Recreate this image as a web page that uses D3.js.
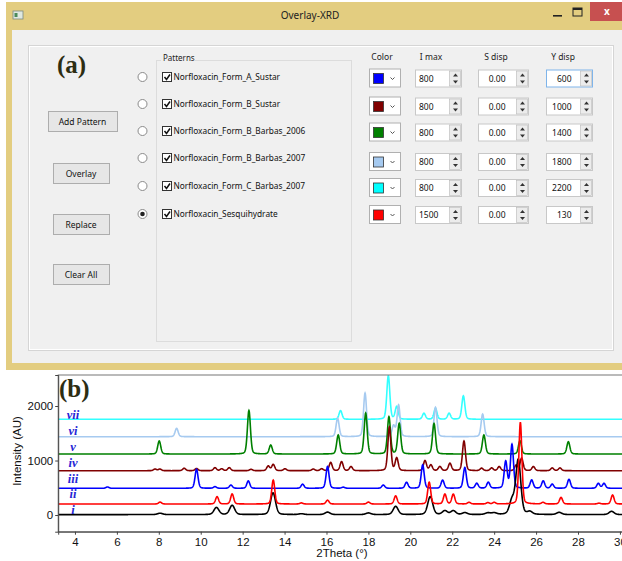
<!DOCTYPE html>
<html>
<head>
<meta charset="utf-8">
<script src="https://cdnjs.cloudflare.com/ajax/libs/d3/7.8.5/d3.min.js"></script>
<style>
  body { margin: 0; background: #fff; }
  svg { display: block; }
</style>
</head>
<body>
<div id="figure"></div>
<script>
// ---- panel (a): the dialog ----
var patternNames = ["Norfloxacin_Form_A_Sustar", "Norfloxacin_Form_B_Sustar", "Norfloxacin_Form_B_Barbas_2006",
                    "Norfloxacin_Form_B_Barbas_2007", "Norfloxacin_Form_C_Barbas_2007", "Norfloxacin_Sesquihydrate"];
var patternColors = ["#0000ff", "#800000", "#008000", "#a6caf0", "#00ffff", "#ff0000"];
var iMaxValues = ["800", "800", "800", "800", "800", "1500"];
var sDispValues = ["0.00", "0.00", "0.00", "0.00", "0.00", "0.00"];
var yDispValues = ["600", "1000", "1400", "1800", "2200", "130"];
var selectedPattern = 5;
var buttonLabels = ["Add Pattern", "Overlay", "Replace", "Clear All"];
var columnHeaders = ["Color", "I max", "S disp", "Y disp"];

// ---- panel (b): the overlay ----
var traceLabels = ["i", "ii", "iii", "iv", "v", "vi", "vii"];
var traceColors = ["#000000", "#ff0000", "#0000ff", "#800000", "#008000", "#a6caf0", "#33ffff"];
var traceOffsets = [8, 202, 490, 813, 1119, 1437, 1756];
var traceFwhm = [0.28, 0.17, 0.17, 0.17, 0.17, 0.17, 0.17];
var labelLevels = [18, 312, 587, 880, 1174, 1468, 1761];
var xTicks = [4, 6, 8, 10, 12, 14, 16, 18, 20, 22, 24, 26, 28, 30];
var yTicks = [0, 1000, 2000];

// [2theta, height]
var peaksI = [[8.06, 25], [10.75, 130], [11.5, 170], [13.45, 400], [14.8, 15], [16.05, 45], [18.0, 30],
              [19.3, 150], [20.95, 330], [21.65, 70], [22.05, 70], [22.6, 35], [23.7, 30], [24.0, 30],
              [24.85, 250], [25.15, 1000], [25.7, 50], [27.1, 40], [29.6, 60]];
var peaksII = [[8.06, 35], [10.78, 135], [11.5, 185], [13.46, 440], [14.8, 20], [16.05, 70], [18.0, 35],
               [19.3, 150], [20.9, 400], [21.65, 180], [22.05, 180], [22.8, 30], [23.7, 25], [24.0, 30],
               [25.25, 1500], [26.33, 30], [27.19, 120], [29.0, 15], [29.65, 165]];
var peaksIII = [[5.55, 25], [9.8, 350], [10.68, 30], [11.44, 60], [12.27, 135], [14.86, 75], [16.05, 400],
                [16.8, 20], [18.71, 60], [19.82, 110], [20.59, 430], [21.54, 150], [22.6, 380], [23.17, 90],
                [23.72, 110], [24.55, 490], [24.85, 800], [25.79, 150], [26.34, 135], [26.77, 75],
                [27.57, 165], [28.97, 90], [29.24, 90]];
var peaksIV = [[7.82, 30], [8.05, 30], [9.21, 45], [9.8, 40], [10.68, 55], [11.0, 35], [11.36, 55],
               [12.4, 25], [13.22, 85], [13.46, 115], [14.02, 35], [15.37, 30], [15.77, 35], [16.2, 150],
               [16.72, 165], [17.17, 75], [19.0, 800], [19.35, 230], [20.7, 185], [20.98, 105], [21.41, 75],
               [21.89, 135], [22.56, 545], [23.4, 45], [23.88, 50], [24.24, 75], [25.05, 100], [25.31, 230],
               [25.87, 75], [26.77, 50], [27.14, 50]];
var peaksV = [[8.02, 240], [12.3, 800], [13.34, 165], [16.56, 350], [17.87, 750], [18.98, 680], [19.47, 560],
              [21.13, 560], [23.51, 350], [25.23, 245], [27.54, 225]];
var peaksVI = [[8.85, 155], [16.53, 340], [17.84, 800], [19.2, 200], [19.44, 580], [21.2, 540], [23.45, 415]];
var peaksVII = [[16.67, 160], [18.95, 800], [19.35, 230], [20.65, 110], [21.2, 200], [21.85, 110], [22.53, 430]];
var tracePeaks = [peaksI, peaksII, peaksIII, peaksIV, peaksV, peaksVI, peaksVII];
var drawOrder = [6, 5, 4, 3, 2, 0, 1];

var W = 622, H = 561;
var svg = d3.select("#figure").append("svg").attr("width", W).attr("height", H);
var uiFont = "'Noto Sans', 'Open Sans', sans-serif";
var plotFont = "11.5px 'Liberation Sans', Arial, sans-serif";

// window frame
svg.append("rect").attr("x", 6).attr("y", 2).attr("width", 640).attr("height", 368).attr("fill", "#e3cd80");
svg.append("rect").attr("x", 12).attr("y", 30).attr("width", 640).attr("height", 333).attr("fill", "#f0f0f0");
svg.append("text").attr("x", 310).attr("y", 19).attr("text-anchor", "middle")
    .style("font", "10px " + uiFont).attr("fill", "#222").text("Overlay-XRD");
svg.append("rect").attr("x", 13).attr("y", 11).attr("width", 10).attr("height", 8)
    .attr("fill", "#dfe8e0").attr("stroke", "#7a8a80").attr("stroke-width", 0.8);
svg.append("rect").attr("x", 14.5).attr("y", 13).attr("width", 3).attr("height", 4).attr("fill", "#4a8a5a");
svg.append("rect").attr("x", 553).attr("y", 15).attr("width", 9).attr("height", 1.6).attr("fill", "#222");
svg.append("rect").attr("x", 573).attr("y", 8).attr("width", 9).attr("height", 8)
    .attr("fill", "none").attr("stroke", "#222").attr("stroke-width", 1);
svg.append("rect").attr("x", 573).attr("y", 8).attr("width", 9).attr("height", 2).attr("fill", "#222");
svg.append("rect").attr("x", 590).attr("y", 2).attr("width", 40).attr("height", 19).attr("fill", "#c75050");
svg.append("text").attr("x", 607).attr("y", 15).attr("text-anchor", "middle")
    .style("font", "bold 10px " + uiFont).attr("fill", "#fff").text("x");

// group panels
svg.append("rect").attr("x", 28.5).attr("y", 45.5).attr("width", 585).attr("height", 305)
    .attr("fill", "none").attr("stroke", "#d5d5d5");
svg.append("rect").attr("x", 29.5).attr("y", 46.5).attr("width", 583).attr("height", 303)
    .attr("fill", "none").attr("stroke", "#fff");
svg.append("rect").attr("x", 156.5).attr("y", 60.5).attr("width", 195).attr("height", 281)
    .attr("fill", "none").attr("stroke", "#dcdcdc");
svg.append("rect").attr("x", 161).attr("y", 55).attr("width", 34).attr("height", 10).attr("fill", "#f0f0f0");
svg.append("text").attr("x", 163).attr("y", 61).style("font", "8px " + uiFont).attr("fill", "#222").text("Patterns");

svg.append("text").attr("x", 57).attr("y", 73)
    .style("font", "bold 25px 'Liberation Serif', serif").attr("fill", "#2d2d12").text("(a)");

// buttons
var buttonBoxes = [[48, 111, 69], [53, 163, 56], [53, 214, 56], [53, 264, 56]];
buttonLabels.forEach(function(label, i) {
    var b = buttonBoxes[i];
    svg.append("rect").attr("x", b[0] + 0.5).attr("y", b[1] + 0.5).attr("width", b[2]).attr("height", 20)
        .attr("fill", "#e6e6e6").attr("stroke", "#adadad");
    svg.append("text").attr("x", b[0] + b[2] / 2).attr("y", b[1] + 13.5).attr("text-anchor", "middle")
        .style("font", "8.5px " + uiFont).attr("fill", "#111").text(label);
});

// pattern rows: radio, checkbox, name
var rowCy = [77, 104, 131, 158, 186, 214];
var rows = svg.append("g").selectAll("g").data(patternNames).enter().append("g");
rows.append("circle").attr("cx", 142.5).attr("cy", function(d, i) { return rowCy[i]; }).attr("r", 4.5)
    .attr("fill", "#fff").attr("stroke", "#8a8a8a");
rows.filter(function(d, i) { return i === selectedPattern; }).append("circle")
    .attr("cx", 142.5).attr("cy", rowCy[selectedPattern]).attr("r", 2.3).attr("fill", "#222");
rows.append("rect").attr("x", 162.5).attr("y", function(d, i) { return rowCy[i] - 4.5; })
    .attr("width", 9).attr("height", 9).attr("fill", "#fff").attr("stroke", "#333");
rows.append("path").attr("d", function(d, i) {
        var c = rowCy[i];
        return "M164.5," + (c) + " L166.5," + (c + 2.5) + " L170," + (c - 2.5);
    }).attr("fill", "none").attr("stroke", "#111").attr("stroke-width", 1.5);
rows.append("text").attr("x", 173.5).attr("y", function(d, i) { return rowCy[i] + 3; })
    .style("font", "8.3px " + uiFont).attr("fill", "#111").text(function(d) { return d; });

// column headers
var headerX = [382, 431, 496, 563];
columnHeaders.forEach(function(h, i) {
    svg.append("text").attr("x", headerX[i]).attr("y", 60).attr("text-anchor", "middle")
        .style("font", "8.5px " + uiFont).attr("fill", "#222").text(h);
});

function spinBox(x, cy, w, text, anchor, tx, focused) {
    var g = svg.append("g");
    g.append("rect").attr("x", x + 0.5).attr("y", cy - 8.5).attr("width", w).attr("height", 17)
        .attr("fill", "#fff").attr("stroke", focused ? "#7eb4ea" : "#c8c8c8");
    g.append("rect").attr("x", x + w - 11.5).attr("y", cy - 7.5).attr("width", 11).attr("height", 15)
        .attr("fill", "#ececec").attr("stroke", "#b8b8b8").attr("stroke-width", 0.6);
    g.append("path").attr("d", "M" + (x + w - 8) + "," + (cy - 2) + " l2.5,-3 l2.5,3 Z").attr("fill", "#333");
    g.append("path").attr("d", "M" + (x + w - 8) + "," + (cy + 2) + " l2.5,3 l2.5,-3 Z").attr("fill", "#333");
    g.append("text").attr("x", tx).attr("y", cy + 3).attr("text-anchor", anchor)
        .style("font", "8.5px " + uiFont).attr("fill", "#111").text(text);
}

var ctrlCy = [78.5, 106.5, 132.5, 162, 188, 215];
patternColors.forEach(function(c, i) {
    var cy = ctrlCy[i];
    svg.append("rect").attr("x", 369.5).attr("y", cy - 9.5).attr("width", 31).attr("height", 18)
        .attr("fill", "#fff").attr("stroke", "#b0b0b0");
    svg.append("rect").attr("x", 373.5).attr("y", cy - 5).attr("width", 10).attr("height", 10)
        .attr("fill", c).attr("stroke", "#333").attr("stroke-width", 0.8);
    svg.append("path").attr("d", "M390.5," + (cy - 1) + " l2,2 l2,-2").attr("fill", "none")
        .attr("stroke", "#555").attr("stroke-width", 1);
    spinBox(415, cy, 46, iMaxValues[i], "start", 419, false);
    spinBox(478, cy, 50, sDispValues[i], "end", 505.5, false);
    spinBox(546, cy, 46, yDispValues[i], "end", 571.5, i === 0);
});

// ---- panel (b) ----
var plotTop = 375, plotBottom = 531.7, plotLeft = 58.2;
var x = d3.scaleLinear().domain([3.2, 31]).range([plotLeft, plotLeft + 27.8 * 20.96]);
var y = d3.scaleLinear().domain([-306, 2569]).range([plotBottom, plotTop]);

svg.append("rect").attr("x", 0).attr("y", 370).attr("width", W).attr("height", H - 370).attr("fill", "#fff");

svg.append("defs").append("clipPath").attr("id", "plotClip").append("rect")
    .attr("x", plotLeft).attr("y", plotTop).attr("width", 600).attr("height", plotBottom - plotTop);

function profile(peaks, fwhm, offset) {
    var hw = fwhm / 2, pts = [];
    var grid = d3.range(3.2, 31, 0.01);
    grid.forEach(function(t) {
        var s = 0;
        peaks.forEach(function(p) {
            var u = (t - p[0]) / hw;
            s += p[1] * (0.25 / (1 + u * u) + 0.75 * Math.exp(-Math.LN2 * u * u));
        });
        pts.push([t, offset + s]);
    });
    return pts;
}

var line = d3.line().x(function(d) { return x(d[0]); }).y(function(d) { return y(d[1]); });
var traces = svg.append("g").attr("clip-path", "url(#plotClip)");
drawOrder.forEach(function(k) {
    traces.append("path").datum(profile(tracePeaks[k], traceFwhm[k], traceOffsets[k]))
        .attr("d", line).attr("fill", "none").attr("stroke", traceColors[k]).attr("stroke-width", 1.6);
});

// frame and axes
svg.append("rect").attr("x", plotLeft).attr("y", plotTop).attr("width", 620).attr("height", plotBottom - plotTop)
    .attr("fill", "none").attr("stroke", "#777").attr("stroke-width", 1);
var xAxis = svg.append("g").attr("transform", "translate(0," + plotBottom + ")")
    .call(d3.axisBottom(x).tickValues(xTicks).tickFormat(d3.format("d")).tickSize(3).tickPadding(3));
var yAxis = svg.append("g").attr("transform", "translate(" + plotLeft + ",0)")
    .call(d3.axisLeft(y).tickValues(yTicks).tickFormat(d3.format("d")).tickSize(3).tickPadding(2));
[xAxis, yAxis].forEach(function(a) {
    a.select(".domain").attr("stroke", "#444");
    a.selectAll(".tick line").attr("stroke", "#444");
    a.selectAll(".tick text").style("font", plotFont).attr("fill", "#111");
});

svg.append("text").attr("transform", "translate(21,451) rotate(-90)").attr("text-anchor", "middle")
    .style("font", plotFont).attr("fill", "#111").text("Intensity (AU)");
svg.append("text").attr("x", 342).attr("y", 557).attr("text-anchor", "middle")
    .style("font", plotFont).attr("fill", "#111").text("2Theta (°)");

svg.append("text").attr("x", 59).attr("y", 397)
    .style("font", "bold 25px 'Liberation Serif', serif").attr("fill", "#2d2d12").text("(b)");

svg.append("g").selectAll("text").data(traceLabels).enter().append("text")
    .attr("x", 73).attr("y", function(d, i) { return y(labelLevels[i]); }).attr("text-anchor", "middle")
    .style("font", "italic bold 12.5px 'Liberation Serif', serif").attr("fill", "#2626d6")
    .text(function(d) { return d; });
</script>
</body>
</html>
